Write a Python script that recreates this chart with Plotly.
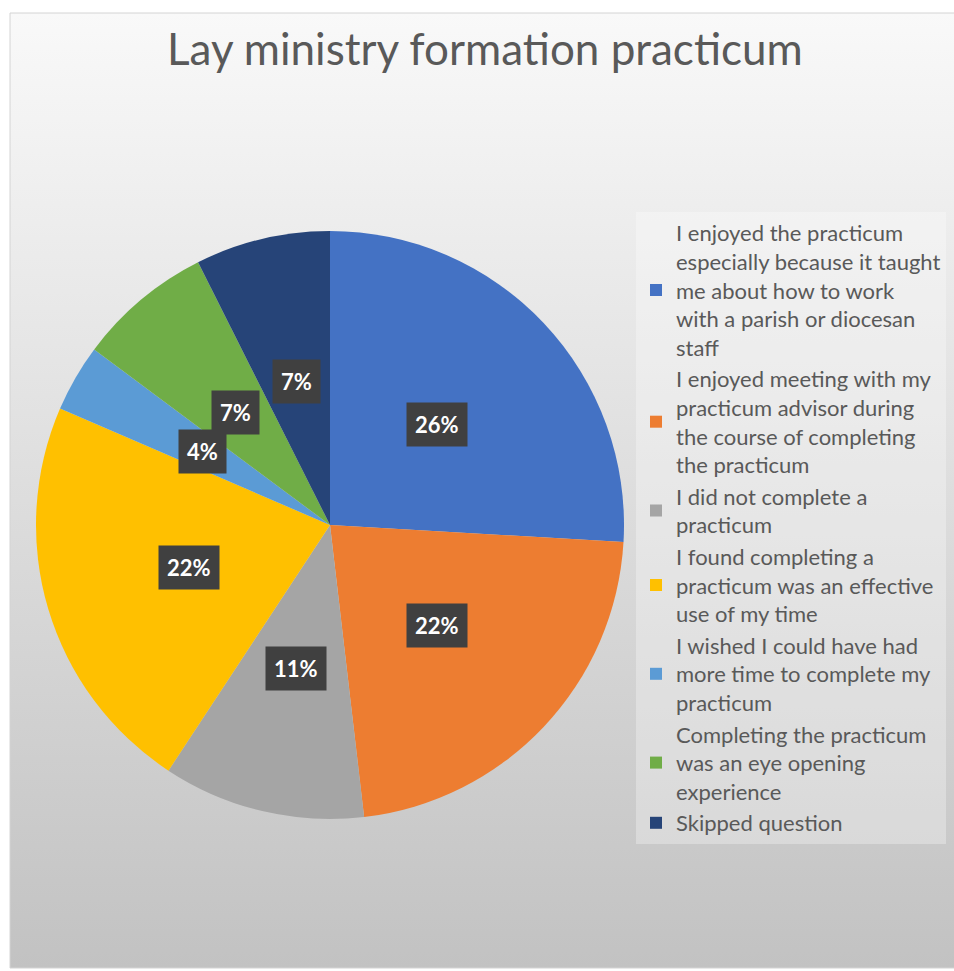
import base64
import math
import plotly.graph_objects as go

# ---- data ----
categories = [
    "I enjoyed the practicum<br>especially because it taught<br>me about how to work<br>with a parish or diocesan<br>staff",
    "I enjoyed meeting with my<br>practicum advisor during<br>the course of completing<br>the practicum",
    "I did not complete a<br>practicum",
    "I found completing a<br>practicum was an effective<br>use of my time",
    "I wished I could have had<br>more time to complete my<br>practicum",
    "Completing the practicum<br>was an eye opening<br>experience",
    "Skipped question",
]
values = [25.9, 22.2, 11.1, 22.2, 3.7, 7.4, 7.4]
colors = ["#4472C4", "#ED7D31", "#A5A5A5", "#FFC000", "#5B9BD5", "#70AD47", "#264478"]
title_text = "Lay ministry formation practicum"

# ---- layout constants ----
W, H = 954, 971
cx_px, cy_px, r_px = 330, 525, 294
dom_x = [(cx_px - r_px) / W, (cx_px + r_px) / W]
dom_y = [1 - (cy_px + r_px) / H, 1 - (cy_px - r_px) / H]
TXT = "#595959"
FONT = "Lato, 'Open Sans', sans-serif"

svg = ('<svg xmlns="http://www.w3.org/2000/svg" width="100" height="100" preserveAspectRatio="none">'
       '<defs><linearGradient id="g" x1="0" y1="0" x2="0" y2="1">'
       '<stop offset="0" stop-color="#f9f9f9"/><stop offset="1" stop-color="#c2c2c2"/>'
       '</linearGradient></defs><rect width="100" height="100" fill="url(#g)"/></svg>')
bg_uri = "data:image/svg+xml;base64," + base64.b64encode(svg.encode()).decode()

fig = go.Figure(go.Pie(
    labels=categories,
    values=values,
    marker=dict(colors=colors, line=dict(width=0)),
    sort=False,
    direction="clockwise",
    rotation=0,
    textinfo="none",
    hoverinfo="label+percent",
    domain=dict(x=dom_x, y=dom_y),
))

# data labels in dark boxes, at half radius along each slice's mid-angle
total = sum(values)
cum = 0.0
annotations = []
for v in values:
    mid = (cum + v / 2) / total * 2 * math.pi
    cum += v
    px = cx_px + 0.5 * r_px * math.sin(mid)
    py = cy_px - 0.5 * r_px * math.cos(mid)
    annotations.append(dict(
        x=px / W, y=1 - py / H, xref="paper", yref="paper",
        text="<b>%d%%</b>" % round(v / total * 100),
        showarrow=False, bgcolor="#404040", borderpad=8,
        font=dict(family=FONT, size=22, color="white"),
        xanchor="center", yanchor="middle",
    ))

annotations.append(dict(
    x=485 / W, y=1 - 48 / H, xref="paper", yref="paper",
    text=title_text, showarrow=False,
    font=dict(family=FONT, size=44, color=TXT),
    xanchor="center", yanchor="middle",
))

fig.update_layout(
    width=W, height=H,
    margin=dict(l=0, r=0, t=0, b=0),
    paper_bgcolor="white",
    plot_bgcolor="rgba(0,0,0,0)",
    annotations=annotations,
    images=[dict(source=bg_uri, xref="paper", yref="paper",
                 x=10 / W, y=1 - 13 / H, sizex=(W - 10) / W, sizey=(968 - 13) / H,
                 sizing="stretch", layer="below", xanchor="left", yanchor="top")],
    shapes=[dict(type="rect", xref="paper", yref="paper",
                 x0=10 / W, x1=1.01, y0=1 - 968 / H, y1=1 - 13 / H,
                 line=dict(color="#d4d4d4", width=1), fillcolor="rgba(0,0,0,0)",
                 layer="below")],
    legend=dict(
        x=636 / W, y=1 - 212 / H, xanchor="left", yanchor="top",
        bgcolor="rgba(255,255,255,0.3)",
        font=dict(family=FONT, size=22, color=TXT),
        valign="middle",
        tracegroupgap=0,
    ),
    showlegend=True,
)

fig.write_html("out.html")
